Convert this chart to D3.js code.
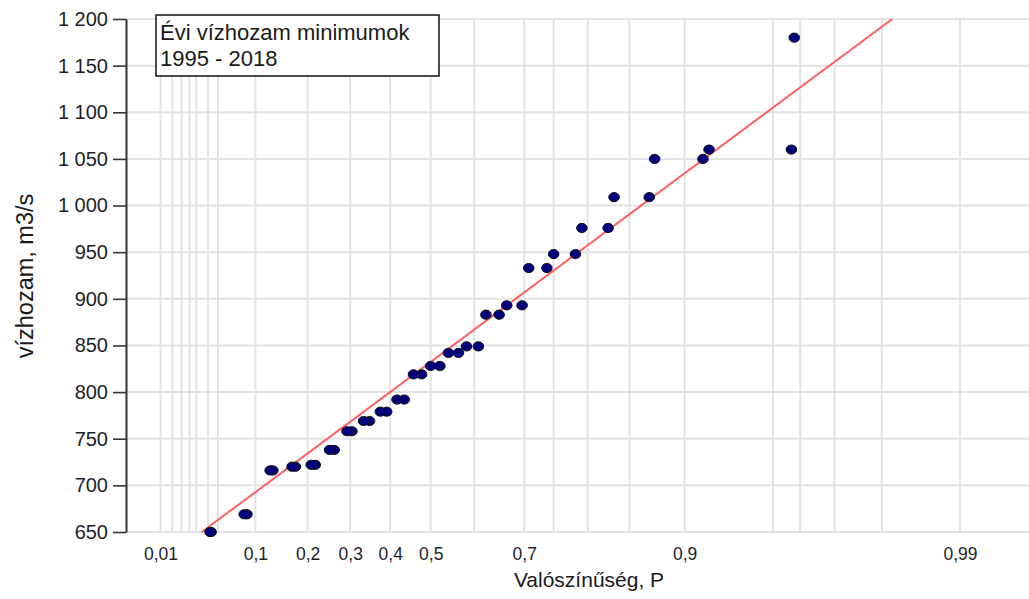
<!DOCTYPE html>
<html>
<head>
<meta charset="utf-8">
<script src="https://cdn.jsdelivr.net/npm/d3@7"></script>
<style>
  html, body { margin: 0; padding: 0; background: #fff; }
  svg { display: block; font-family: "Liberation Sans", Arial, sans-serif; }
</style>
</head>
<body>
<svg id="chart" width="1029" height="599"></svg>
<script>
// Annual minimum discharges (m3/s), sorted ascending
const flowValues = [650, 669, 716, 720, 722, 738, 758, 769, 779, 792, 819, 828,
                    842, 849, 883, 893, 933, 948, 976, 1009, 1050, 1060, 1180];
// Plotting positions, i/(n+1)
const probWeibull = [0.042, 0.083, 0.125, 0.167, 0.208, 0.250, 0.292, 0.333, 0.375,
                     0.417, 0.458, 0.500, 0.542, 0.583, 0.625, 0.667, 0.708, 0.750,
                     0.792, 0.833, 0.875, 0.917, 0.958];
// Plotting positions, i/n (largest value has none)
const probRank = [0.043, 0.087, 0.130, 0.174, 0.217, 0.261, 0.304, 0.348, 0.391,
                  0.435, 0.478, 0.522, 0.565, 0.609, 0.652, 0.696, 0.739, 0.783,
                  0.826, 0.870, 0.913, 0.957];
// Probability grid
const probGrid = [0.01, 0.015, 0.02, 0.025, 0.03, 0.04, 0.05, 0.1, 0.2, 0.3, 0.4, 0.5,
                  0.6, 0.7, 0.75, 0.8, 0.85, 0.9, 0.95, 0.96, 0.97, 0.98, 0.99];
const probLabels = [0.01, 0.1, 0.2, 0.3, 0.4, 0.5, 0.7, 0.9, 0.99];
const flowTicks = [650, 700, 750, 800, 850, 900, 950, 1000, 1050, 1100, 1150, 1200];
const titleLines = ["Évi vízhozam minimumok", "1995 - 2018"];

// Skew coefficient of the Pearson III probability paper
const CS = 0.85;

// Inverse standard normal CDF (Acklam)
function normInv(p) {
  const a = [-3.969683028665376e+01, 2.209460984245205e+02, -2.759285104469687e+02,
             1.383577518672690e+02, -3.066479806614716e+01, 2.506628277459239e+00];
  const b = [-5.447609879822406e+01, 1.615858368580409e+02, -1.556989798598866e+02,
             6.680131188771972e+01, -1.328068155288572e+01];
  const c = [-7.784894002430293e-03, -3.223964580411365e-01, -2.400758277161838e+00,
             -2.549732539343734e+00, 4.374664141464968e+00, 2.938163982698783e+00];
  const d = [7.784695709041462e-03, 3.224671290700398e-01, 2.445134137142996e+00,
             3.754408661907416e+00];
  const pl = 0.02425, ph = 1 - pl;
  if (p < pl) {
    const q = Math.sqrt(-2 * Math.log(p));
    return (((((c[0]*q+c[1])*q+c[2])*q+c[3])*q+c[4])*q+c[5]) / ((((d[0]*q+d[1])*q+d[2])*q+d[3])*q+1);
  }
  if (p <= ph) {
    const q = p - 0.5, r = q * q;
    return (((((a[0]*r+a[1])*r+a[2])*r+a[3])*r+a[4])*r+a[5])*q / (((((b[0]*r+b[1])*r+b[2])*r+b[3])*r+b[4])*r+1);
  }
  const q = Math.sqrt(-2 * Math.log(1 - p));
  return -(((((c[0]*q+c[1])*q+c[2])*q+c[3])*q+c[4])*q+c[5]) / ((((d[0]*q+d[1])*q+d[2])*q+d[3])*q+1);
}

// Pearson III frequency factor (Wilson-Hilferty)
function freqFactor(p) {
  const z = normInv(p);
  return (2 / CS) * (Math.pow(1 + CS * z / 6 - CS * CS / 36, 3) - 1);
}

const svg = d3.select("#chart");
const W = 1029;
const plotLeft = 126, plotTop = 19, plotBottom = 532;

const xK = d3.scaleLinear()
  .domain([freqFactor(0.01), freqFactor(0.99)])
  .range([160.5, 960]);
const xP = p => xK(freqFactor(p));
const y = d3.scaleLinear().domain([650, 1200]).range([plotBottom, plotTop]);

const locale = d3.formatLocale({ decimal: ",", thousands: "\u2009", grouping: [3], currency: ["", ""] });
const fmtFlow = v => (v >= 1000 ? locale.format(",")(v).replace("\u2009", " ") : String(v));
const fmtProb = p => String(p).replace(".", ",");

const gridColor = "#e3e3e3";

// horizontal grid
svg.append("g").selectAll("line").data(flowTicks).join("line")
  .attr("x1", plotLeft).attr("x2", W)
  .attr("y1", d => y(d)).attr("y2", d => y(d))
  .attr("stroke", gridColor).attr("stroke-width", 2);

// vertical grid
svg.append("g").selectAll("line").data(probGrid).join("line")
  .attr("x1", d => xP(d)).attr("x2", d => xP(d))
  .attr("y1", plotTop).attr("y2", plotBottom)
  .attr("stroke", gridColor).attr("stroke-width", 2);

// x axis labels
const xAxis = d3.axisBottom(xK)
  .tickValues(probLabels.map(freqFactor))
  .tickFormat((k, i) => fmtProb(probLabels[i]))
  .tickSize(0).tickPadding(16);
const gx = svg.append("g").attr("transform", `translate(0,${plotBottom})`).call(xAxis);
gx.select(".domain").remove();
gx.selectAll("text").attr("font-size", 17.5).attr("fill", "#1e1e28")
  .attr("font-family", "'Liberation Sans', Arial, sans-serif");

// y axis
const yAxis = d3.axisLeft(y).tickValues(flowTicks).tickFormat(fmtFlow)
  .tickSize(13).tickSizeOuter(0).tickPadding(5);
const gy = svg.append("g").attr("transform", `translate(${plotLeft},0)`).call(yAxis);
gy.select(".domain").attr("stroke", "#333").attr("stroke-width", 2);
gy.selectAll(".tick line").attr("stroke", "#333").attr("stroke-width", 1.6);
gy.selectAll("text").attr("font-size", 20).attr("fill", "#1e1e28")
  .attr("font-family", "'Liberation Sans', Arial, sans-serif");

// axis titles
svg.append("text")
  .attr("x", 589).attr("y", 587)
  .attr("text-anchor", "middle").attr("font-size", 21).attr("fill", "#1a1a1a")
  .text("Valószínűség, P");
svg.append("text")
  .attr("transform", "translate(33,276) rotate(-90)")
  .attr("text-anchor", "middle").attr("font-size", 23.5).attr("fill", "#1a1a1a")
  .text("vízhozam, m3/s");

// fitted Pearson III line: Q = mean + sd * K(P)
const mean = d3.mean(flowValues);
const sd = d3.deviation(flowValues);
const fitLine = d3.line()
  .x(v => xK((v - mean) / sd))
  .y(v => y(v));
svg.append("path")
  .datum(y.domain())
  .attr("d", fitLine)
  .attr("fill", "none").attr("stroke", "#ff5f5f").attr("stroke-width", 2);

// data points
const pts = [
  ...probRank.map((p, i) => ({ p, v: flowValues[i] })),
  ...probWeibull.map((p, i) => ({ p, v: flowValues[i] }))
];
svg.append("g").selectAll("ellipse").data(pts).join("ellipse")
  .attr("cx", d => xP(d.p)).attr("cy", d => y(d.v))
  .attr("rx", 5.3).attr("ry", 4.6)
  .attr("fill", "#00007f").attr("stroke", "#111").attr("stroke-width", 1);

// title box
const box = svg.append("g");
box.append("rect")
  .attr("x", 156).attr("y", 15).attr("width", 283).attr("height", 61)
  .attr("fill", "#fff").attr("stroke", "#111").attr("stroke-width", 1.5);
box.selectAll("text").data(titleLines).join("text")
  .attr("x", 160).attr("y", (d, i) => 39.5 + i * 26.5)
  .attr("font-size", 22).attr("fill", "#1a1a1a")
  .text(d => d);
</script>
</body>
</html>
